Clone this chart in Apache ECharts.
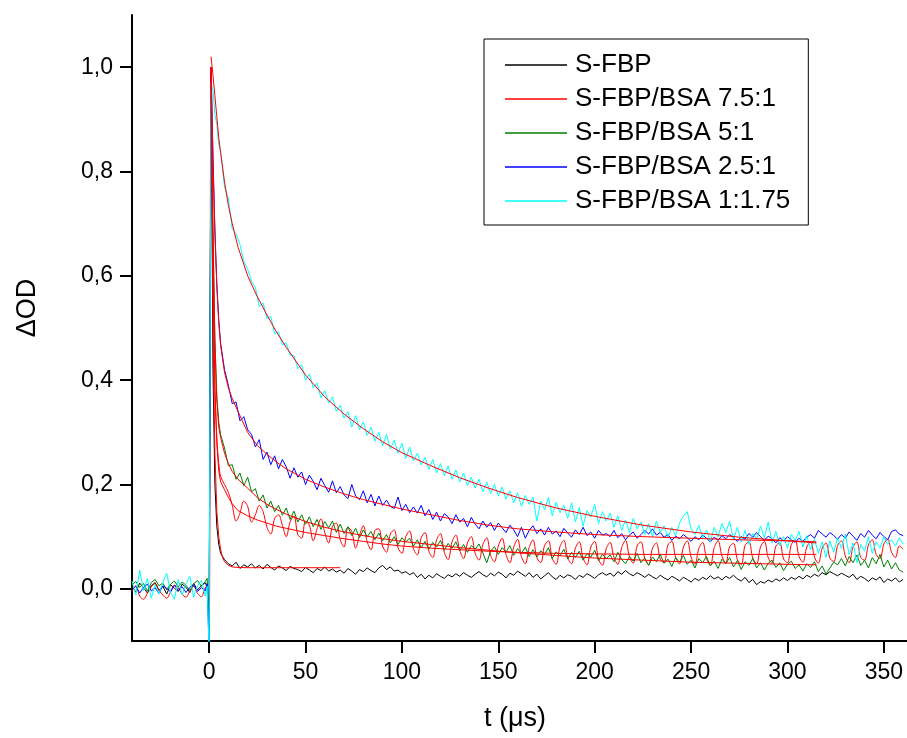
<!DOCTYPE html>
<html>
<head>
<meta charset="utf-8">
<script src="https://cdn.jsdelivr.net/npm/echarts@6/dist/echarts.min.js"></script>
<style>html,body{margin:0;padding:0;background:#fff}#c{width:907px;height:738px}</style>
</head>
<body>
<div id="c"></div>
<script>
// ---- tick labels ----
const xTicks = [0, 50, 100, 150, 200, 250, 300, 350];
const yTicks = [0, 0.2, 0.4, 0.6, 0.8, 1.0];

// ---- sampling times (µs) of the measured traces ----
const timesUs = [
-40,-38,-36,-34,-32,-30,-28,-26,-24,-22,
-20,-18,-16,-14,-12,-10,-8,-6,-4,-2,
-1,0,1,2,3,4,5,6,
8,10,12,14,16,18,20,22,24,26,
28,30,32,34,36,38,40,42,44,46,
48,50,52,54,56,58,60,62,64,66,
68,70,72,74,76,78,80,82,84,86,
88,90,92,94,96,98,100,102,104,106,
108,110,112,114,116,118,120,122,124,126,
128,130,132,134,136,138,140,142,144,146,
148,150,152,154,156,158,160,162,164,166,
168,170,172,174,176,178,180,182,184,186,
188,190,192,194,196,198,200,202,204,206,
208,210,212,214,216,218,220,222,224,226,
228,230,232,234,236,238,240,242,244,246,
248,250,252,254,256,258,260,262,264,266,
268,270,272,274,276,278,280,282,284,286,
288,290,292,294,296,298,300,302,304,306,
308,310,312,314,316,318,320,322,324,326,
328,330,332,334,336,338,340,342,344,346,
348,350,352,354,356,358,360
];

// ---- measured traces (ΔOD) ----
const sFbp = [
0.004,-0.006,0.011,0.002,-0.008,0.006,0.012,-0.003,0.005,-0.01,
0.008,0.001,-0.005,0.009,0.003,-0.007,0.01,-0.002,0.006,0.012,
0.003,-0.06,1.0,0.42,0.2,0.12,0.085,0.068,
0.056,0.048,0.044,0.051,0.039,0.046,0.042,0.048,0.04,0.045,
0.038,0.047,0.041,0.036,0.044,0.04,0.035,0.043,0.039,0.037,
0.033,0.041,0.036,0.031,0.039,0.035,0.042,0.034,0.038,0.032,
0.036,0.03,0.039,0.034,0.028,0.037,0.033,0.04,0.035,0.031,
0.04,0.045,0.037,0.042,0.034,0.036,0.03,0.033,0.027,0.031,
0.022,0.028,0.019,0.026,0.021,0.029,0.024,0.02,0.027,0.023,
0.029,0.024,0.031,0.026,0.022,0.028,0.033,0.027,0.023,0.03,
0.025,0.032,0.028,0.021,0.03,0.026,0.034,0.029,0.024,0.031,
0.022,0.028,0.019,0.025,0.031,0.023,0.018,0.026,0.021,0.027,
0.024,0.018,0.026,0.022,0.029,0.025,0.02,0.027,0.031,0.026,
0.03,0.024,0.033,0.028,0.035,0.029,0.025,0.031,0.027,0.022,
0.028,0.023,0.019,0.026,0.021,0.017,0.024,0.02,0.015,0.022,
0.018,0.013,0.02,0.016,0.022,0.018,0.025,0.019,0.023,0.017,
0.024,0.02,0.026,0.019,0.015,0.022,0.012,0.018,0.008,0.014,
0.011,0.017,0.013,0.019,0.015,0.021,0.016,0.022,0.018,0.024,
0.019,0.026,0.022,0.028,0.024,0.031,0.027,0.033,0.029,0.025,
0.03,0.026,0.022,0.028,0.018,0.024,0.02,0.014,0.021,0.017,
0.023,0.012,0.019,0.015,0.021,0.013,0.018
];
const sFbpBsa75 = [
-0.005,0.006,-0.014,-0.02,-0.008,0.004,0.01,-0.003,-0.012,-0.018,
-0.006,0.007,0.002,-0.01,-0.016,-0.004,0.005,-0.009,-0.015,0.003,
0.004,-0.08,1.0,0.62,0.39,0.29,0.24,0.215,
0.2,0.185,0.16,0.13,0.145,0.168,0.158,0.128,0.142,0.16,
0.148,0.118,0.105,0.135,0.142,0.122,0.1,0.128,0.14,0.104,
0.097,0.13,0.122,0.092,0.115,0.134,0.108,0.088,0.12,0.126,
0.094,0.08,0.118,0.11,0.078,0.102,0.121,0.09,0.075,0.112,
0.115,0.082,0.07,0.105,0.113,0.079,0.068,0.1,0.111,0.077,
0.065,0.098,0.108,0.072,0.06,0.094,0.106,0.07,0.056,0.09,
0.103,0.074,0.058,0.088,0.1,0.068,0.055,0.085,0.098,0.064,
0.052,0.082,0.097,0.066,0.05,0.08,0.095,0.062,0.048,0.079,
0.094,0.06,0.05,0.083,0.092,0.058,0.047,0.081,0.093,0.06,
0.048,0.078,0.09,0.059,0.046,0.08,0.091,0.057,0.045,0.077,
0.089,0.06,0.047,0.079,0.093,0.062,0.049,0.082,0.09,0.058,
0.046,0.078,0.088,0.057,0.05,0.084,0.091,0.06,0.048,0.08,
0.092,0.061,0.047,0.077,0.089,0.058,0.045,0.079,0.092,0.063,
0.05,0.081,0.087,0.056,0.046,0.083,0.09,0.059,0.048,0.08,
0.091,0.06,0.049,0.082,0.088,0.057,0.05,0.085,0.093,0.062,
0.051,0.08,0.09,0.061,0.049,0.078,0.088,0.059,0.052,0.083,
0.092,0.063,0.05,0.08,0.09,0.06,0.055,0.084,0.094,0.066,
0.058,0.086,0.095,0.07,0.06,0.082,0.076
];
const sFbpBsa5 = [
0.008,0.014,0.003,0.01,-0.004,0.012,0.018,0.006,0.011,-0.002,
0.009,0.015,0.004,0.013,0.007,-0.003,0.01,0.016,0.005,0.014,
0.02,-0.09,1.0,0.69,0.48,0.37,0.32,0.295,
0.27,0.236,0.238,0.21,0.222,0.198,0.214,0.186,0.192,0.168,
0.18,0.155,0.168,0.148,0.16,0.141,0.155,0.133,0.149,0.128,
0.142,0.124,0.138,0.119,0.133,0.114,0.129,0.117,0.13,0.108,
0.124,0.106,0.119,0.102,0.116,0.098,0.113,0.1,0.11,0.094,
0.107,0.092,0.104,0.088,0.1,0.085,0.098,0.09,0.097,0.082,
0.094,0.079,0.091,0.076,0.089,0.08,0.093,0.074,0.087,0.078,
0.09,0.073,0.085,0.07,0.083,0.076,0.086,0.069,0.05,0.072,
0.081,0.066,0.079,0.07,0.083,0.064,0.077,0.068,0.08,0.062,
0.075,0.061,0.073,0.066,0.079,0.058,0.071,0.063,0.076,0.057,
0.07,0.06,0.072,0.055,0.068,0.061,0.074,0.054,0.066,0.058,
0.065,0.052,0.07,0.056,0.048,0.062,0.053,0.068,0.05,0.059,
0.045,0.061,0.052,0.066,0.049,0.057,0.043,0.06,0.051,0.064,
0.047,0.055,0.04,0.058,0.05,0.062,0.044,0.053,0.039,0.057,
0.048,0.06,0.042,0.054,0.037,0.052,0.045,0.058,0.04,0.05,
0.036,0.049,0.055,0.041,0.05,0.035,0.047,0.053,0.039,0.046,
0.034,0.048,0.041,0.052,0.033,0.044,0.028,0.04,0.051,0.046,
0.058,0.044,0.062,0.05,0.065,0.045,0.055,0.04,0.06,0.048,
0.066,0.042,0.055,0.038,0.05,0.036,0.032
];
const sFbpBsa25 = [
-0.002,0.005,-0.008,0.003,0.009,-0.004,0.002,-0.009,0.006,0.001,
-0.006,0.007,-0.003,0.004,-0.007,0.003,0.008,-0.005,0.002,-0.004,
0.01,-0.12,1.0,0.83,0.69,0.585,0.515,0.47,
0.42,0.39,0.355,0.358,0.322,0.33,0.305,0.296,0.272,0.286,
0.248,0.262,0.238,0.255,0.23,0.248,0.234,0.212,0.232,0.214,
0.224,0.2,0.218,0.206,0.19,0.212,0.198,0.185,0.207,0.184,
0.196,0.18,0.173,0.2,0.178,0.171,0.188,0.165,0.181,0.159,
0.178,0.16,0.17,0.158,0.154,0.176,0.15,0.162,0.146,0.157,
0.145,0.16,0.14,0.152,0.133,0.147,0.13,0.144,0.138,0.125,
0.142,0.128,0.135,0.119,0.137,0.124,0.115,0.13,0.118,0.127,
0.112,0.126,0.117,0.108,0.122,0.113,0.1,0.118,0.097,0.112,
0.121,0.106,0.115,0.103,0.118,0.105,0.111,0.1,0.116,0.107,
0.099,0.113,0.104,0.118,0.102,0.109,0.097,0.112,0.103,0.106,
0.1,0.112,0.098,0.106,0.094,0.103,0.109,0.097,0.104,0.112,
0.105,0.115,0.103,0.108,0.099,0.104,0.093,0.101,0.096,0.104,
0.098,0.091,0.1,0.094,0.103,0.097,0.09,0.099,0.093,0.102,
0.096,0.104,0.098,0.091,0.1,0.095,0.106,0.099,0.108,0.1,
0.093,0.101,0.096,0.088,0.098,0.092,0.1,0.094,0.089,0.097,
0.091,0.099,0.104,0.097,0.112,0.105,0.099,0.108,0.102,0.095,
0.104,0.097,0.109,0.101,0.093,0.106,0.099,0.112,0.103,0.096,
0.108,0.1,0.094,0.11,0.113,0.105,0.102
];
const sFbpBsa1175 = [
0.015,-0.012,0.036,-0.004,0.02,-0.018,0.008,-0.01,0.012,0.03,
-0.006,-0.02,0.018,-0.012,0.01,0.024,-0.016,0.006,0.016,-0.014,
0.005,-0.12,0.97,0.955,0.91,0.89,0.85,0.84,
0.77,0.748,0.69,0.68,0.66,0.628,0.612,0.59,0.578,0.541,
0.548,0.518,0.522,0.489,0.493,0.468,0.471,0.448,0.447,0.422,
0.43,0.4,0.412,0.385,0.395,0.366,0.38,0.356,0.368,0.34,
0.352,0.327,0.34,0.31,0.332,0.305,0.32,0.294,0.31,0.283,
0.3,0.274,0.296,0.268,0.285,0.26,0.279,0.25,0.272,0.245,
0.26,0.238,0.252,0.229,0.248,0.222,0.24,0.217,0.236,0.21,
0.228,0.205,0.222,0.198,0.214,0.193,0.21,0.186,0.205,0.183,
0.2,0.178,0.195,0.172,0.188,0.165,0.184,0.158,0.179,0.162,
0.176,0.13,0.168,0.152,0.175,0.14,0.166,0.146,0.16,0.135,
0.165,0.128,0.156,0.12,0.15,0.138,0.162,0.125,0.148,0.13,
0.145,0.118,0.14,0.112,0.132,0.108,0.135,0.115,0.128,0.104,
0.125,0.1,0.13,0.108,0.121,0.098,0.118,0.102,0.126,0.14,
0.148,0.115,0.104,0.122,0.097,0.113,0.09,0.118,0.1,0.125,
0.108,0.13,0.094,0.118,0.09,0.112,0.085,0.106,0.095,0.12,
0.098,0.128,0.088,0.11,0.082,0.1,0.078,0.105,0.092,0.11,
0.08,0.102,0.075,0.095,0.068,0.09,0.06,0.092,0.07,0.098,
0.078,0.105,0.065,0.088,0.05,0.085,0.072,0.1,0.068,0.09,
0.078,0.1,0.085,0.094,0.082,0.098,0.086
];

// ---- fitted decay curves ----
const fitTimes = [1,2,3,4,5,6,8,10,12,15,20,25,30,35,40,50,60,70,80,90,100,115,130,145,160,180,200,225,250,275,300,315];
const fit75   = [1.0,0.6,0.38,0.28,0.225,0.205,0.19,0.175,0.163,0.15,0.14,0.132,0.126,0.12,0.116,0.108,0.102,0.096,0.091,0.086,0.082,0.078,0.075,0.072,0.07,0.068,0.067,0.066,0.066,0.066,0.066,0.066];
const fit5    = [1.0,0.68,0.47,0.36,0.31,0.29,0.26,0.24,0.225,0.21,0.193,0.175,0.162,0.152,0.143,0.129,0.118,0.109,0.102,0.096,0.091,0.085,0.079,0.074,0.069,0.064,0.059,0.055,0.051,0.049,0.047,0.046];
const fit25   = [1.0,0.82,0.68,0.58,0.51,0.465,0.415,0.385,0.365,0.34,0.30,0.275,0.258,0.243,0.23,0.21,0.195,0.182,0.171,0.162,0.153,0.142,0.131,0.122,0.115,0.109,0.104,0.1,0.097,0.094,0.092,0.09];
const fit1175 = [1.02,0.985,0.945,0.905,0.865,0.835,0.78,0.735,0.70,0.655,0.60,0.56,0.525,0.492,0.463,0.41,0.368,0.335,0.307,0.282,0.261,0.236,0.213,0.193,0.175,0.155,0.139,0.122,0.109,0.099,0.092,0.088];
const fitBlackTimes = [1,2,3,4,5,6,7,8,10,12,15,20,30,40,50,60,68];
const fitSFbp = [1.0,0.5,0.26,0.15,0.1,0.075,0.06,0.052,0.045,0.042,0.041,0.0405,0.0405,0.0405,0.0405,0.0405,0.0405];

const names = ['S-FBP','S-FBP/BSA 7.5:1','S-FBP/BSA 5:1','S-FBP/BSA 2.5:1','S-FBP/BSA 1:1.75'];
const colors = ['#000000','#ff0000','#008000','#0000ff','#00ffff'];
const traces = [sFbp, sFbpBsa75, sFbpBsa5, sFbpBsa25, sFbpBsa1175];

const pair = (t, v) => t.map((x, i) => [x, v[i]]);
const FONT = "'Liberation Sans', Arial, Helvetica, sans-serif";

const series = traces.map((v, i) => ({
  name: names[i], type: 'line', data: pair(timesUs, v), symbol: 'none', showSymbol: false,
  smooth: i === 1 ? 0.35 : false,
  lineStyle: { color: colors[i], width: 1 }, itemStyle: { color: colors[i] }, z: 2 + i,
  animation: false, silent: true
}));
[[fitBlackTimes, fitSFbp], [fitTimes, fit75], [fitTimes, fit5], [fitTimes, fit25], [fitTimes, fit1175]].forEach((f, i) => {
  series.push({
    name: 'fit' + i, type: 'line', data: pair(f[0], f[1]), symbol: 'none', showSymbol: false,
    lineStyle: { color: '#ff0000', width: 1 }, itemStyle: { color: '#ff0000' }, z: 10,
    animation: false, silent: true
  });
});

const chart = echarts.init(document.getElementById('c'), null, { renderer: 'canvas' });
chart.setOption({
  animation: false,
  backgroundColor: '#ffffff',
  grid: { left: 132, top: 15, right: 0, bottom: 97, containLabel: false },
  xAxis: {
    type: 'value', min: -40, max: 362,
    axisLine: { show: true, onZero: false, lineStyle: { color: '#000', width: 2 } },
    axisTick: { show: true, inside: false, length: 12, customValues: xTicks, lineStyle: { color: '#000', width: 2 } },
    axisLabel: { customValues: xTicks, color: '#000', fontSize: 23, fontFamily: FONT, margin: 20 },
    splitLine: { show: false }
  },
  yAxis: {
    type: 'value', min: -0.1, max: 1.1,
    axisLine: { show: true, onZero: false, lineStyle: { color: '#000', width: 2 } },
    axisTick: { show: true, inside: false, length: 12, customValues: yTicks, lineStyle: { color: '#000', width: 2 } },
    axisLabel: { customValues: yTicks, color: '#000', fontSize: 23, fontFamily: FONT, margin: 19,
      formatter: v => v.toFixed(1).replace('.', ',') },
    splitLine: { show: false }
  },
  legend: {
    data: names.map(n => ({ name: n, icon: 'rect' })), orient: 'vertical', left: 484, top: 39,
    padding: [13, 18, 11, 21], itemWidth: 62, itemHeight: 1.5, itemGap: 8,
    borderColor: '#000', borderWidth: 1, backgroundColor: '#fff', selectedMode: false,
    textStyle: { color: '#000', fontSize: 26, fontFamily: FONT, lineHeight: 26, padding: [0, 0, 0, 3] }
  },
  graphic: [
    { type: 'text', x: 28, y: 308, rotation: Math.PI / 2,
      style: { text: 'ΔOD', fontSize: 27, fontFamily: FONT, fill: '#000', align: 'center', verticalAlign: 'middle' } },
    { type: 'text', x: 515, y: 719,
      style: { text: 't (μs)', fontSize: 27, fontFamily: FONT, fill: '#000', align: 'center', verticalAlign: 'middle' } }
  ],
  series: series
});
</script>
</body>
</html>
